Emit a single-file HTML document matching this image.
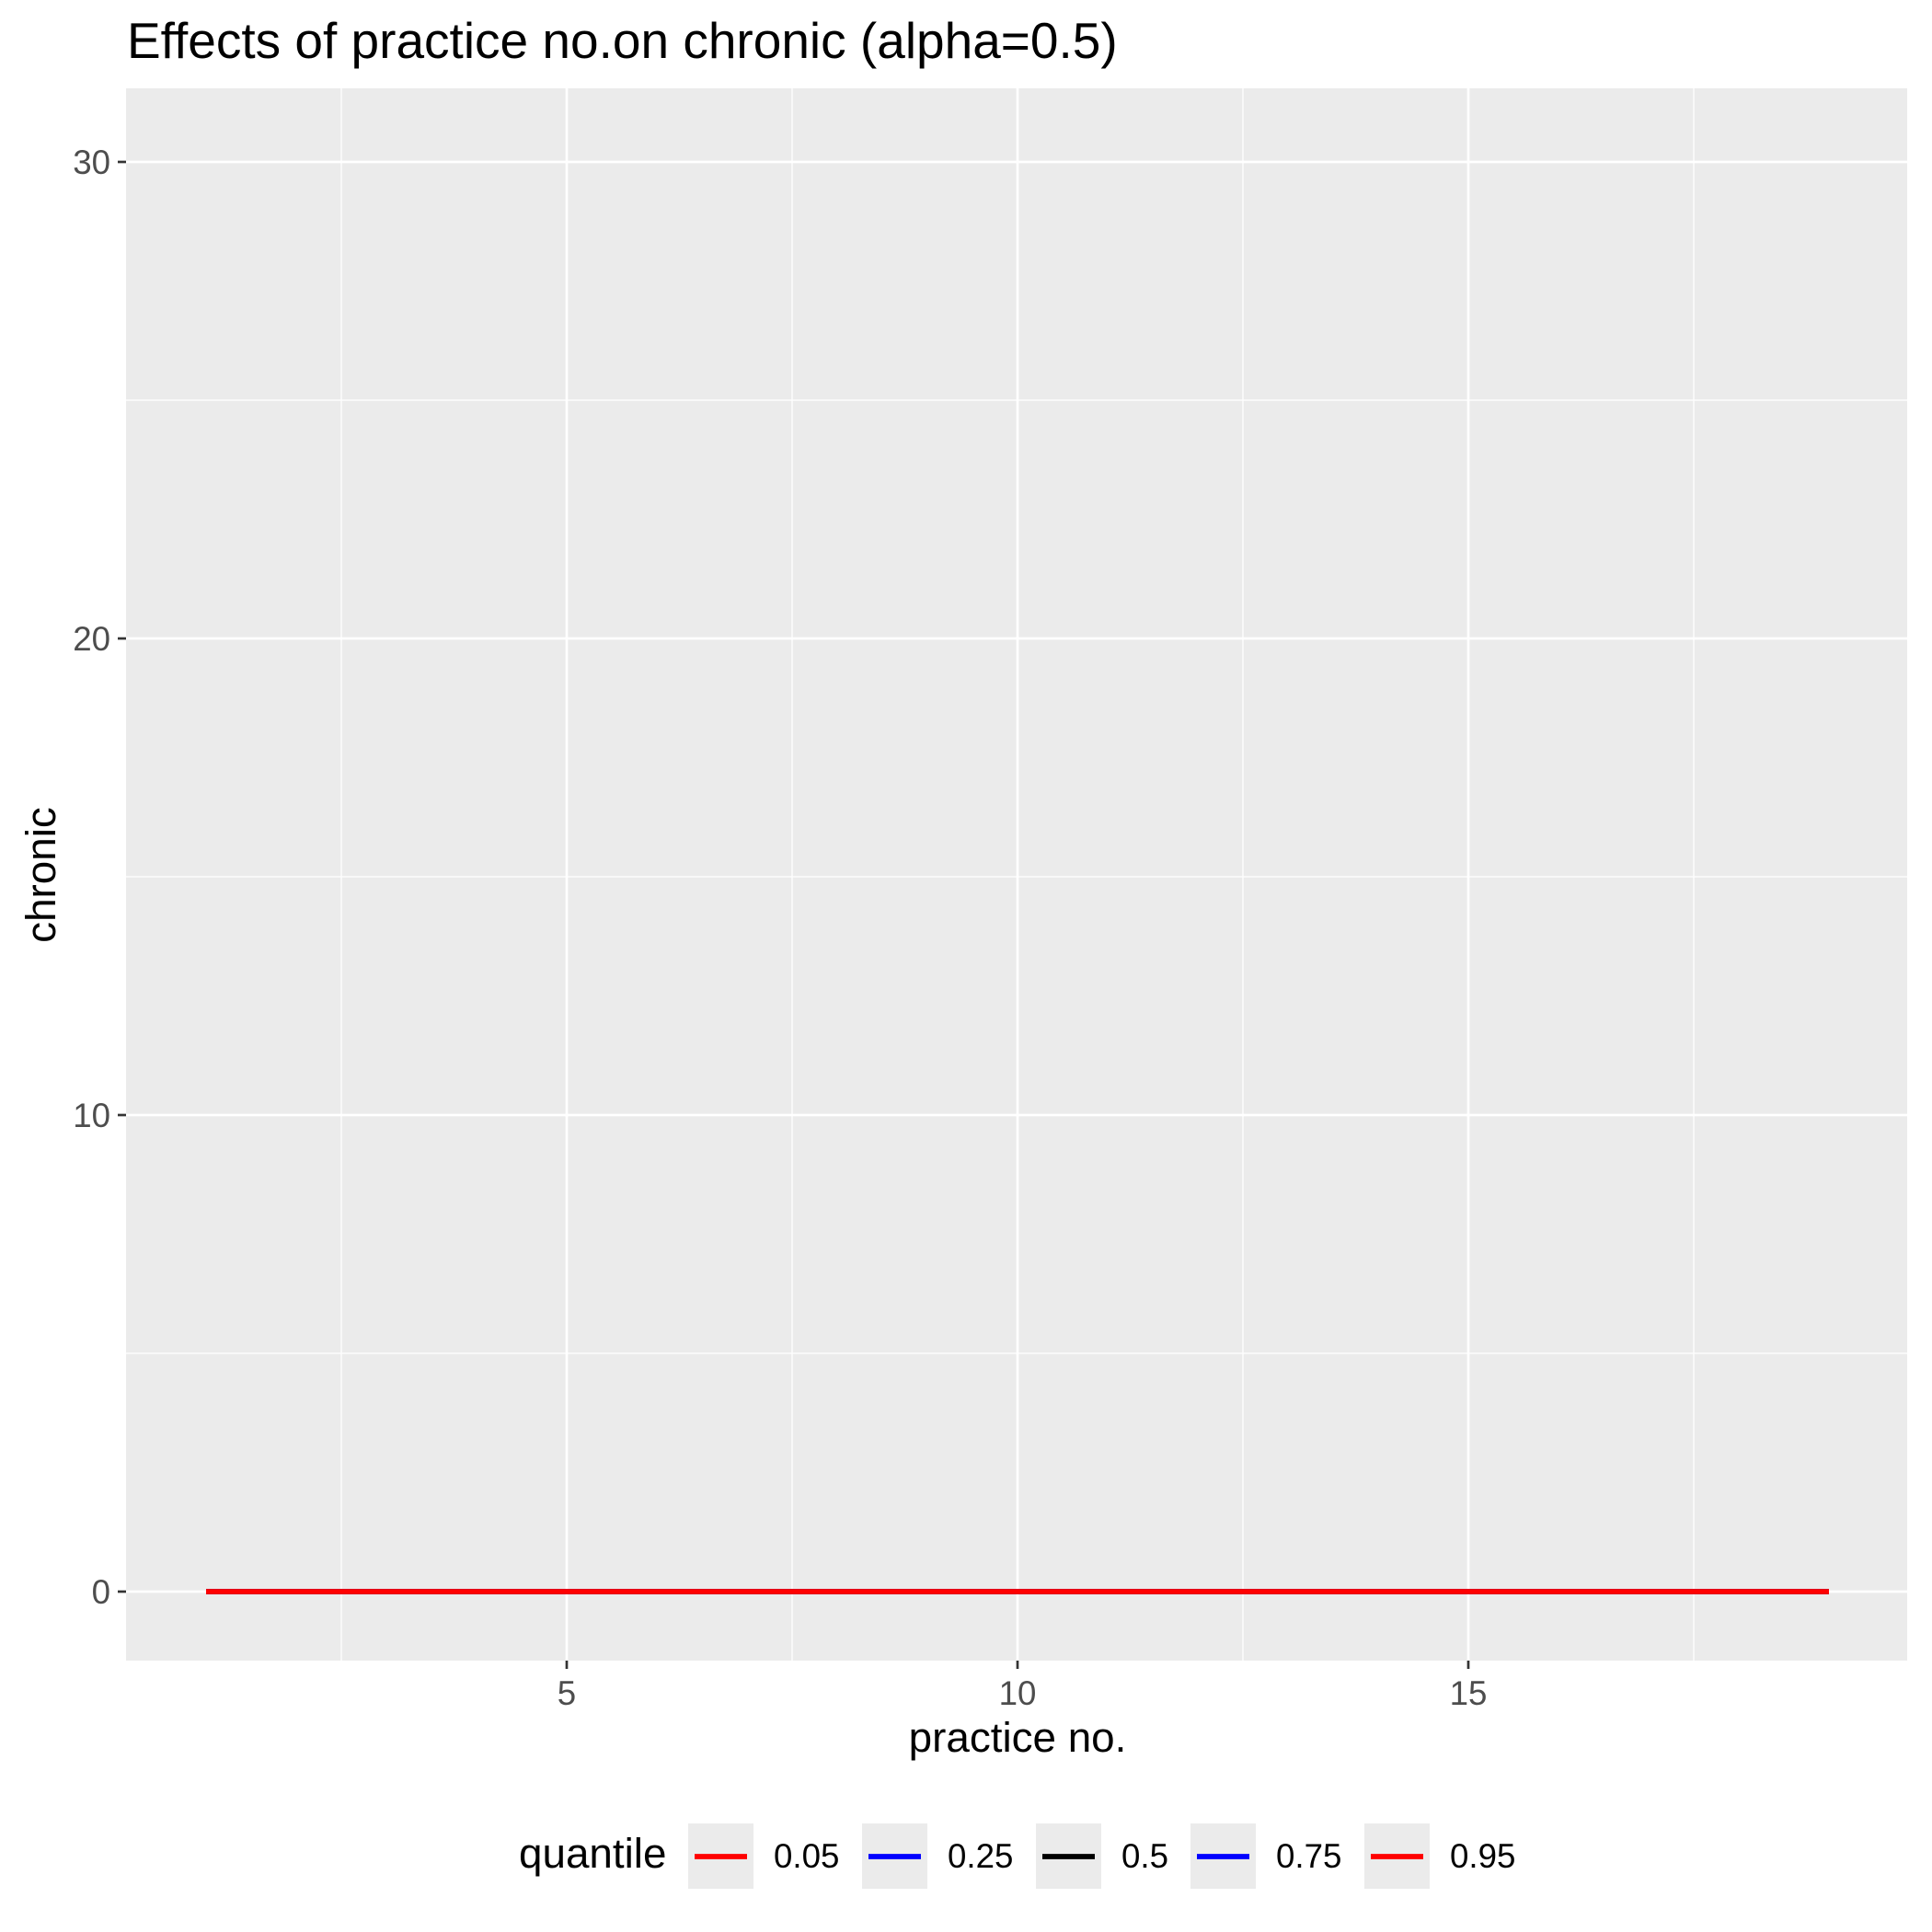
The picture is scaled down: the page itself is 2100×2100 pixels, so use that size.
<!DOCTYPE html>
<html><head><meta charset="utf-8"><style>
html,body{margin:0;padding:0;background:#fff}
svg{display:block}
text{font-family:"Liberation Sans",Arial,sans-serif}
</style></head><body>
<svg id="chart" width="2100" height="2100" viewBox="0 0 2100 2100" xmlns="http://www.w3.org/2000/svg">
<text x="138" y="63" font-size="55" fill="#000">Effects of practice no.on chronic (alpha=0.5)</text>
<g id="panel"></g>
<text x="1106" y="1904" font-size="45.8" text-anchor="middle" fill="#000">practice no.</text>
<text transform="translate(60,951) rotate(-90)" font-size="45.8" text-anchor="middle" fill="#000">chronic</text>
<g id="legend"></g>
</svg>
<script>
const categories = [1, 19];
const quantiles = ["0.05", "0.25", "0.5", "0.75", "0.95"];
const seriesColors = ["#ff0000", "#0000ff", "#000000", "#0000ff", "#ff0000"];
const series005 = [0, 0];
const series025 = [0, 0];
const series05 = [0, 0];
const series075 = [0, 0];
const series095 = [0, 0];
const yTicks = [0, 10, 20, 30];
const yMinor = [5, 15, 25];
const xTicks = [5, 10, 15];
const xMinor = [2.5, 7.5, 12.5, 17.5];

const NS = "http://www.w3.org/2000/svg";
const PL = 137, PR = 2073, PT = 96, PB = 1805;
function xs(v){ return 616 + (v - 5) * 98; }
function ys(v){ return 1730 - v * 51.8; }
function mk(tag, attrs, parent){
  const e = document.createElementNS(NS, tag);
  for (const k in attrs) e.setAttribute(k, attrs[k]);
  parent.appendChild(e);
  return e;
}
const panel = document.getElementById('panel');
const bg = mk('rect', {x:PL, y:PT, width:PR-PL, height:PB-PT, fill:'#ebebeb'}, panel);


yMinor.forEach(v => {
  const l = mk('line', {x1:PL, x2:PR, y1:ys(v), y2:ys(v), stroke:'#fff', 'stroke-width':1.3}, panel);
  
  
});
xMinor.forEach(v => {
  const l = mk('line', {x1:xs(v), x2:xs(v), y1:PT, y2:PB, stroke:'#fff', 'stroke-width':1.3}, panel);
  
  
});
yTicks.forEach(v => {
  const l = mk('line', {x1:PL, x2:PR, y1:ys(v), y2:ys(v), stroke:'#fff', 'stroke-width':2.7}, panel);
  
  
  const t = mk('line', {x1:PL-9, x2:PL, y1:ys(v), y2:ys(v), stroke:'#333', 'stroke-width':2.7}, panel);
  
  
  const tx = mk('text', {x:PL-17, y:ys(v)+13, 'font-size':36.7, 'text-anchor':'end', fill:'#4d4d4d'}, panel);
  tx.textContent = v;
  
  
});
xTicks.forEach(v => {
  const l = mk('line', {x1:xs(v), x2:xs(v), y1:PT, y2:PB, stroke:'#fff', 'stroke-width':2.7}, panel);
  
  
  const t = mk('line', {x1:xs(v), x2:xs(v), y1:PB, y2:PB+9, stroke:'#333', 'stroke-width':2.7}, panel);
  
  
  const tx = mk('text', {x:xs(v), y:1853, 'font-size':36.7, 'text-anchor':'middle', fill:'#4d4d4d'}, panel);
  tx.textContent = v;
  
  
});
const allSeries = [series005, series025, series05, series075, series095];
allSeries.forEach((s, i) => {
  const pts = s.map((v, j) => xs(categories[j]) + ',' + ys(v)).join(' ');
  const pl = mk('polyline', {points:pts, fill:'none', stroke:seriesColors[i], 'stroke-width':5.7}, panel);
  
  
});
const legend = document.getElementById('legend');
const lt = mk('text', {x:564, y:2030, 'font-size':45.8, fill:'#000'}, legend);
lt.textContent = 'quantile';


const keyX = [748, 937, 1126, 1294, 1483];
quantiles.forEach((q, i) => {
  const k = mk('rect', {x:keyX[i], y:1982, width:71, height:71, fill:'#ebebeb'}, legend);
  
  
  const ln = mk('line', {x1:keyX[i]+7, x2:keyX[i]+64, y1:2018, y2:2018, stroke:seriesColors[i], 'stroke-width':5.7}, legend);
  
  
  const tx = mk('text', {x:keyX[i]+93, y:2030, 'font-size':36.7, fill:'#000'}, legend);
  tx.textContent = q;
  
  
});
</script>
</body></html>
